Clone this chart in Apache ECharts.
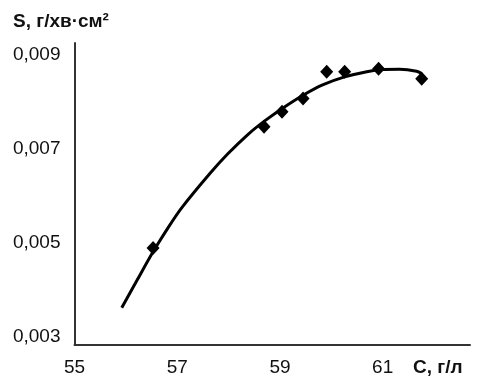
<!DOCTYPE html>
<html>
<head>
<meta charset="utf-8">
<script src="https://cdn.jsdelivr.net/npm/echarts@6/dist/echarts.min.js"></script>
<style>
  html, body { margin: 0; padding: 0; background: #fff; }
  #app { width: 480px; height: 377px; }
</style>
</head>
<body>
<div id="app"></div>
<script>
// measured points (C, g/l ; S)
const pointsC = [56.53, 58.69, 59.04, 59.45, 59.91, 60.26, 60.92, 61.76];
const pointsS = [0.00489, 0.00747, 0.00779, 0.00807, 0.00864, 0.00864, 0.0087, 0.00849];

// trend curve
const curveC = [55.92, 56.22, 56.53, 56.82, 57.09, 57.64, 57.99, 58.38, 58.71,
  59.06, 59.45, 59.83, 60.26, 60.69, 60.94, 61.33, 61.66, 61.76];
const curveS = [0.00362, 0.00421, 0.00481, 0.00532, 0.00575, 0.00648, 0.0069, 0.00731,
  0.0076, 0.00787, 0.00814, 0.00836, 0.00853, 0.00864, 0.00868, 0.00869, 0.00865,
  0.0086];

const xTicks = [55, 57, 59, 61];
const yTicks = [0.003, 0.005, 0.007, 0.009];

const font = "Liberation Sans, Arial, sans-serif";

function zip(a, b) {
  return a.map((v, i) => [v, b[i]]);
}

const chart = echarts.init(document.getElementById("app"));
chart.setOption({
  backgroundColor: "#fff",
  animation: false,
  grid: { left: 74.5, right: 10, top: 43, bottom: 31, containLabel: false },
  xAxis: {
    type: "value",
    min: 55,
    max: 62.7,
    splitLine: { show: false },
    axisTick: { show: false },
    axisLine: { lineStyle: { color: "#333", width: 2 } },
    axisLabel: {
      customValues: xTicks,
      margin: 13,
      fontSize: 19,
      fontFamily: font,
      color: "#111"
    }
  },
  yAxis: {
    type: "value",
    min: 0.00283,
    max: 0.00925,
    splitLine: { show: false },
    axisTick: { show: false },
    axisLine: { show: true, lineStyle: { color: "#333", width: 2 } },
    axisLabel: {
      customValues: yTicks,
      margin: 14,
      fontSize: 19,
      fontFamily: font,
      color: "#111",
      formatter: v => v.toFixed(3).replace(".", ",")
    }
  },
  graphic: [
    {
      type: "text",
      left: 13,
      top: 12,
      style: {
        text: "S, г/хв·см²",
        font: "bold 19px " + font,
        fill: "#111"
      }
    },
    {
      type: "text",
      left: 413,
      top: 358,
      style: {
        text: "С, г/л",
        font: "bold 19px " + font,
        fill: "#111"
      }
    }
  ],
  series: [
    {
      type: "line",
      data: zip(curveC, curveS),
      smooth: 0.3,
      symbol: "none",
      lineStyle: { color: "#000", width: 3 },
      z: 2
    },
    {
      type: "scatter",
      data: zip(pointsC, pointsS),
      symbol: "diamond",
      symbolSize: [13, 14],
      itemStyle: { color: "#000", opacity: 1 },
      z: 3
    }
  ]
});
</script>
</body>
</html>
